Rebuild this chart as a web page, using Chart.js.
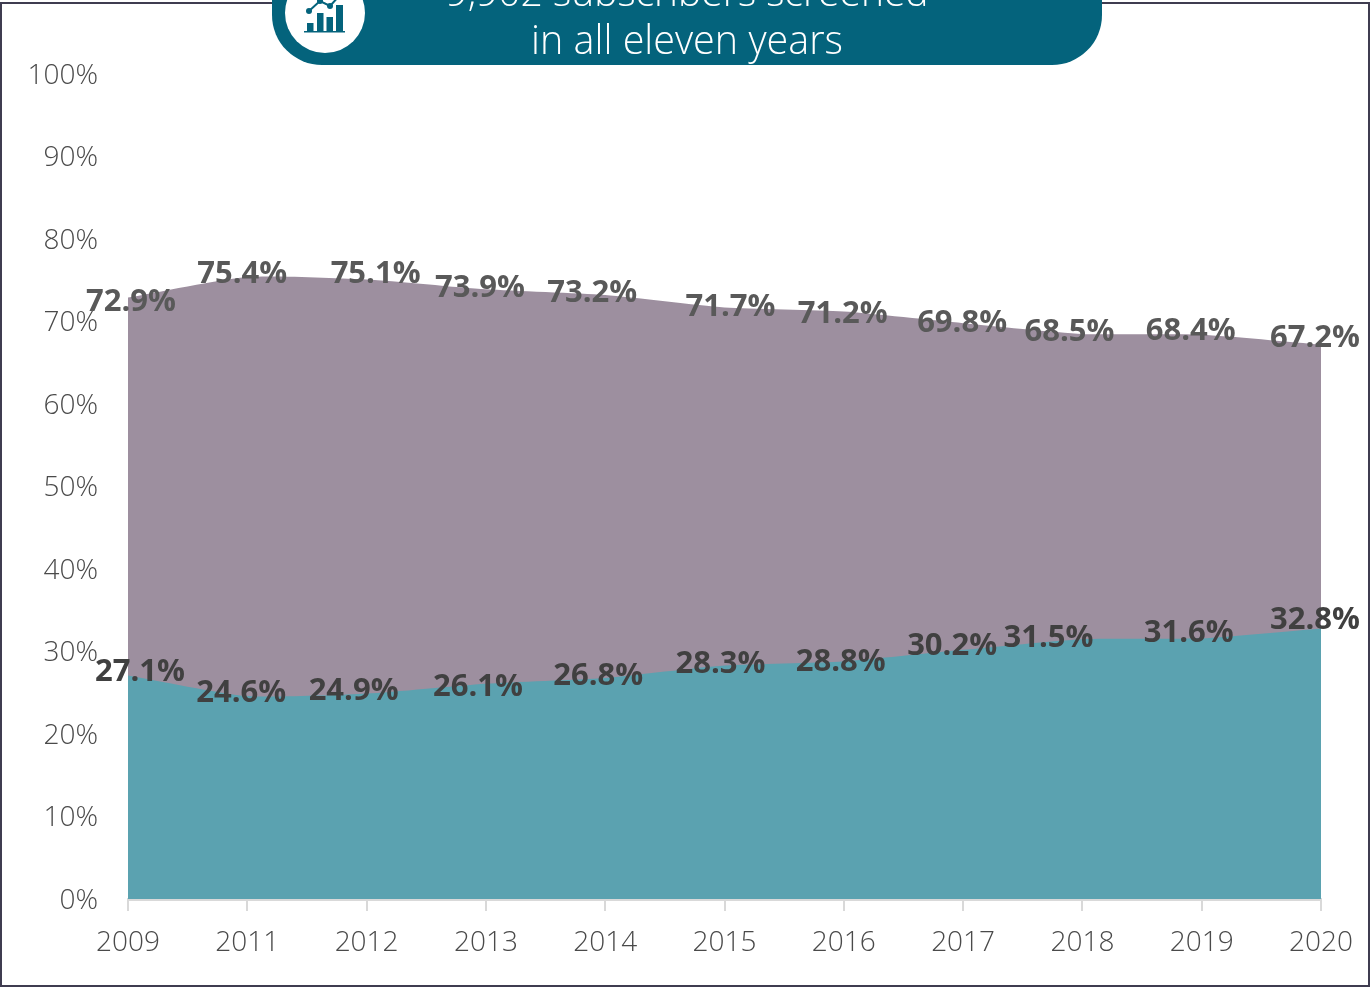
<!DOCTYPE html>
<html>
<head>
<meta charset="utf-8">
<title>Subscribers screened</title>
<script src="https://cdn.jsdelivr.net/npm/chart.js@4"></script>
<style>
    html, body { margin: 0; padding: 0; background: #fff; overflow: hidden; }
    #wrap { position: relative; width: 1370px; height: 987px; overflow: hidden; font-family: "Open Sans", sans-serif; }
    #frame { position: absolute; left: 0; top: 2px; width: 1366px; height: 981px; border: 2px solid #3f3c50; }
    #chart { position: absolute; left: 0; top: 0; }
    #pill {
        position: absolute; left: 272px; top: -60px; width: 830px; height: 124.5px;
        background: #04637c; border-radius: 50px; color: #fff; text-align: center;
        font-weight: 300; line-height: 49px;
    }
    #pill div { position: absolute; left: 0; width: 100%; white-space: nowrap; }
    #badge { position: absolute; left: 285px; top: -27px; width: 80px; height: 80px; border-radius: 50%; background: #fff; }
    #icon { position: absolute; left: 304px; top: 0; }
</style>
</head>
<body>
<div id="wrap">
    <div id="frame"></div>
    <canvas id="chart" width="1370" height="987"></canvas>
    <div id="pill">
        <div style="top: 26px; font-size: 39px;">9,902 subscribers screened</div>
        <div style="top: 75px; font-size: 39.5px;">in all eleven years</div>
    </div>
    <div id="badge"></div>
    <svg id="icon" width="42" height="34" viewBox="0 0 42 34">
        <g fill="#04637c">
            <rect x="3" y="23" width="6.5" height="8"></rect>
            <rect x="13" y="13" width="6.5" height="18"></rect>
            <rect x="22.5" y="17" width="6.5" height="14"></rect>
            <rect x="32" y="5" width="7" height="26"></rect>
            <rect x="0" y="31" width="41" height="1.5"></rect>
            <circle cx="5" cy="11" r="3"></circle>
            <circle cx="16" cy="1" r="3"></circle>
            <circle cx="26" cy="6" r="3"></circle>
        </g>
        <polyline points="5,11 16,1 26,6 37,-6" fill="none" stroke="#04637c" stroke-width="2"></polyline>
    </svg>
</div>
<script>
const years = ['2009', '2011', '2012', '2013', '2014', '2015', '2016', '2017', '2018', '2019', '2020'];
const upperValues = [72.9, 75.4, 75.1, 73.9, 73.2, 71.7, 71.2, 69.8, 68.5, 68.4, 67.2];
const lowerValues = [27.1, 24.6, 24.9, 26.1, 26.8, 28.3, 28.8, 30.2, 31.5, 31.6, 32.8];

// hand placed label offsets from each point, [dx, dy]
const upperShift = [[3, 5], [-5, -3], [9, -5], [-6, -1], [-13, -2], [6, 0], [-1, 3], [-1, 0], [-13, -2], [-11, -4], [-6, -6]];
const lowerShift = [[12, -3], [-6, -3], [-13, -2], [-8, 3], [-7, -2], [-4, -1], [-3, 1], [-11, -4], [-34, -1], [-13, -5], [-6, -8]];

const pointLabels = {
    id: 'pointLabels',
    afterDatasetsDraw(chart) {
        const ctx = chart.ctx;
        const sets = [
            { index: 0, values: upperValues, shift: upperShift, color: '#595959' },
            { index: 1, values: lowerValues, shift: lowerShift, color: '#404040' }
        ];
        ctx.save();
        ctx.font = 'bold 31px "Open Sans"';
        ctx.textAlign = 'center';
        ctx.textBaseline = 'middle';
        sets.forEach(set => {
            const points = chart.getDatasetMeta(set.index).data;
            ctx.fillStyle = set.color;
            set.values.forEach((v, i) => {
                ctx.fillText(v.toFixed(1) + '%', points[i].x + set.shift[i][0], points[i].y + set.shift[i][1]);
            });
        });
        ctx.restore();
    }
};

new Chart(document.getElementById('chart'), {
    type: 'line',
    data: {
        labels: years,
        datasets: [
            {
                data: upperValues,
                backgroundColor: '#9d8f9f',
                borderWidth: 0,
                fill: 'origin',
                pointRadius: 0,
                tension: 0.2,
                order: 2
            },
            {
                data: lowerValues,
                backgroundColor: '#5ba2b0',
                borderWidth: 0,
                fill: 'origin',
                pointRadius: 0,
                tension: 0.2,
                order: 1
            }
        ]
    },
    options: {
        responsive: false,
        animation: false,
        layout: { padding: { top: 74, right: 49, left: 0, bottom: 0 } },
        plugins: {
            legend: { display: false },
            title: { display: false },
            tooltip: { enabled: false }
        },
        scales: {
            x: {
                offset: false,
                afterFit: scale => { scale.height = 88; },
                border: { color: '#d9d9d9', width: 3 },
                grid: { drawOnChartArea: false, color: '#d9d9d9', lineWidth: 2, tickLength: 12 },
                ticks: {
                    autoSkip: false,
                    maxRotation: 0,
                    padding: 15,
                    color: '#4a4a4a',
                    font: { family: '"Open Sans"', size: 28, weight: 300 }
                }
            },
            y: {
                min: 0,
                max: 100,
                afterFit: scale => { scale.width = 128; },
                border: { display: false },
                grid: { display: false, drawTicks: false },
                ticks: {
                    stepSize: 10,
                    padding: 30,
                    labelOffset: 2,
                    color: '#4a4a4a',
                    font: { family: '"Open Sans"', size: 28, weight: 300 },
                    callback: v => v + '%'
                }
            }
        }
    },
    plugins: [pointLabels]
});
</script>
</body>
</html>
